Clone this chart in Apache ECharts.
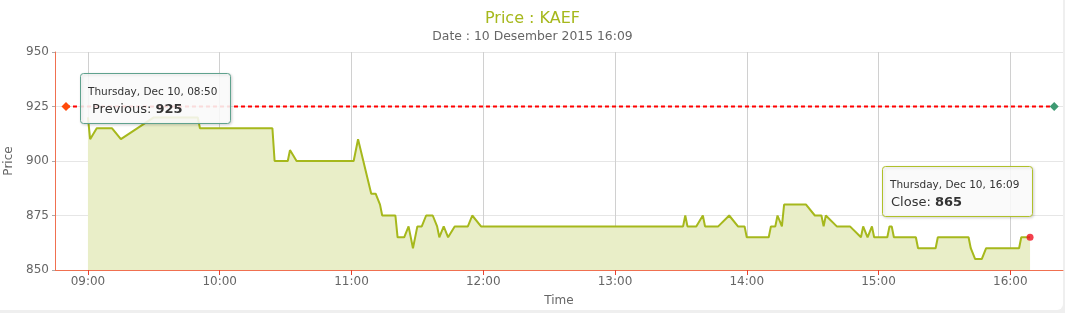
<!DOCTYPE html>
<html>
<head>
<meta charset="utf-8">
<script src="https://cdn.jsdelivr.net/npm/echarts@6/dist/echarts.min.js"></script>
<style>
  html, body { margin: 0; padding: 0; background: #efefef; width: 1065px; height: 313px; overflow: hidden; }
  #frame { position: absolute; left: -6px; top: -6px; width: 1069px; height: 316px; background: #fff; border-radius: 6px; }
  #chart { position: absolute; left: 0; top: 0; width: 1065px; height: 313px; }
</style>
</head>
<body>
<div id="frame"></div>
<div id="chart"></div>
<script>
// ---- data ----
const times = ['09:00','09:01','09:04','09:11','09:15','09:30','09:50','09:51','10:24','10:25','10:31','10:32','10:35',
  '11:01','11:03','11:09','11:11','11:13','11:14','11:20','11:21','11:24','11:26','11:28','11:30','11:32','11:34','11:37',
  '11:39','11:40','11:42','11:44','11:47','11:53','11:55','11:59','13:31','13:32','13:33','13:37','13:40','13:41','13:47',
  '13:52','13:56','13:59','14:00','14:10','14:11','14:13','14:14','14:16','14:17','14:27','14:31','14:34','14:35','14:36',
  '14:41','14:47','14:52','14:53','14:55','14:57','14:58','15:04','15:05','15:06','15:07','15:17','15:18','15:26','15:27',
  '15:41','15:42','15:44','15:47','15:49','16:04','16:05','16:09'];
const prices = [920,910,915,915,910,920,920,915,915,900,900,905,900,
  900,910,885,885,880,875,875,865,865,870,860,870,870,875,875,
  870,865,870,865,870,870,875,870,870,875,870,870,875,870,870,
  875,870,870,865,865,870,870,875,870,880,880,875,875,870,875,
  870,870,865,870,865,870,865,865,870,870,865,865,860,860,865,
  865,860,855,855,860,860,865,865];
const prevTimes = ['08:50','16:20'];
const prevValues = [925, 925];
const closeTime = '16:09';
const closeValue = 865;
const hourTicks = ['09:00','10:00','11:00','12:00','13:00','14:00','15:00','16:00'];
const yTicks = [850, 875, 900, 925, 950];
const axisRange = ['08:45','16:24'];
const titleText = 'Price : KAEF';
const subtitleText = 'Date : 10 Desember 2015 16:09';
const prevHeader = 'Thursday, Dec 10, 08:50';
const closeHeader = 'Thursday, Dec 10, 16:09';

function toMin(s) { const p = s.split(':').map(Number); return p[0] * 60 + p[1]; }
function fmt(v) { const h = Math.floor(v / 60), m = Math.round(v % 60); return String(h).padStart(2,'0') + ':' + String(m).padStart(2,'0'); }

const FONT = 'DejaVu Sans';
const OLIVE = '#a6b81c';
const AXIS_RED = '#f07050';

const chart = echarts.init(document.getElementById('chart'), null, { renderer: 'canvas' });
const option = {
  animation: false,
  backgroundColor: 'transparent',
  textStyle: { fontFamily: FONT },
  title: {
    text: titleText, subtext: subtitleText, left: 'center', top: 4, itemGap: 1,
    textStyle: { color: OLIVE, fontSize: 16, fontWeight: 'normal', fontFamily: FONT, lineHeight: 20 },
    subtextStyle: { color: '#666', fontSize: 12.4, fontFamily: FONT, lineHeight: 14 }
  },
  grid: { left: 55, right: 2, top: 52, bottom: 43, containLabel: false, outerBoundsMode: 'none' },
  xAxis: {
    type: 'value', min: toMin(axisRange[0]), max: toMin(axisRange[1]),
    name: 'Time', nameLocation: 'middle', nameGap: 25,
    nameTextStyle: { color: '#666', fontSize: 12, fontFamily: FONT },
    axisLine: { show: true, lineStyle: { color: AXIS_RED, width: 1 } },
    axisTick: { show: true, length: 5, customValues: hourTicks.map(toMin), lineStyle: { color: '#e8412f' } },
    axisLabel: { customValues: hourTicks.map(toMin), formatter: v => fmt(v), color: '#666', fontSize: 12, margin: 6, fontFamily: FONT },
    splitLine: { show: true, lineStyle: { color: '#d0d0d0', width: 1 } }
  },
  yAxis: {
    type: 'value', min: yTicks[0], max: yTicks[yTicks.length - 1], interval: yTicks[1] - yTicks[0],
    name: 'Price', nameLocation: 'middle', nameGap: 40,
    nameTextStyle: { color: '#666', fontSize: 12, fontFamily: FONT },
    axisLine: { show: true, lineStyle: { color: AXIS_RED, width: 1 } },
    axisTick: { show: true, length: 3, lineStyle: { color: '#aaa' } },
    axisLabel: { color: '#666', fontSize: 12, margin: 6, padding: [0, 0, 6, 0], fontFamily: FONT },
    splitLine: { show: true, lineStyle: { color: '#e6e6e6', width: 1 } }
  },
  series: [
    {
      type: 'line', name: 'Price',
      data: times.map((t, i) => [toMin(t), prices[i]]),
      showSymbol: false, symbol: 'none',
      lineStyle: { color: OLIVE, width: 2 },
      areaStyle: { color: '#e9eec8', opacity: 1, origin: 'start' },
      z: 2
    },
    {
      type: 'line', name: 'Previous',
      data: prevTimes.map((t, i) => ({ value: [toMin(t), prevValues[i]],
        itemStyle: { color: i === 0 ? '#ff4a0a' : '#3e9a72' } })),
      symbol: 'diamond', symbolSize: 9, showSymbol: true,
      lineStyle: { color: '#ff0000', width: 2, type: [4, 3] },
      z: 3
    },
    {
      type: 'scatter', name: 'Close',
      data: [[toMin(closeTime), closeValue]],
      symbol: 'circle', symbolSize: 7,
      itemStyle: { color: '#f01020' },
      z: 4
    }
  ]
};
chart.setOption(option);

function tooltipBox(anchor, dx, dy, border, header, label, value, bodyIndent) {
  const p = chart.convertToPixel({ gridIndex: 0 }, anchor);
  const x = Math.round(p[0] + dx), y = Math.round(p[1] + dy);
  return {
    type: 'group', x: x, y: y, z: 100, zlevel: 0,
    children: [
      { type: 'rect', z: 100, shape: { x: 0.5, y: 0.5, width: 150, height: 50, r: 3 },
        style: { fill: 'rgba(255,255,255,0.86)', stroke: border, lineWidth: 1,
          shadowBlur: 3, shadowOffsetX: 1, shadowOffsetY: 1, shadowColor: 'rgba(0,0,0,0.18)' } },
      { type: 'text', z: 101, x: 8, y: 19,
        style: { text: header, fill: '#333', font: '10.5px ' + FONT, verticalAlign: 'middle', align: 'left' } },
      { type: 'text', z: 101, x: bodyIndent, y: 37,
        style: { text: '{a|' + label + ' }{b|' + value + '}', verticalAlign: 'middle', align: 'left',
          rich: { a: { fill: '#333', fontSize: 13, fontFamily: FONT }, b: { fill: '#333', fontSize: 13, fontWeight: 'bold', fontFamily: FONT } } } }
    ]
  };
}

chart.setOption({
  graphic: [
    tooltipBox([toMin(prevTimes[0]), prevValues[0]], 14, -33.5, '#5fa28e', prevHeader, 'Previous:', String(prevValues[0]), 12),
    tooltipBox([toMin(closeTime), closeValue], -148, -71, '#b0c02a', closeHeader, 'Close:', String(closeValue), 9)
  ]
});
</script>
</body>
</html>
